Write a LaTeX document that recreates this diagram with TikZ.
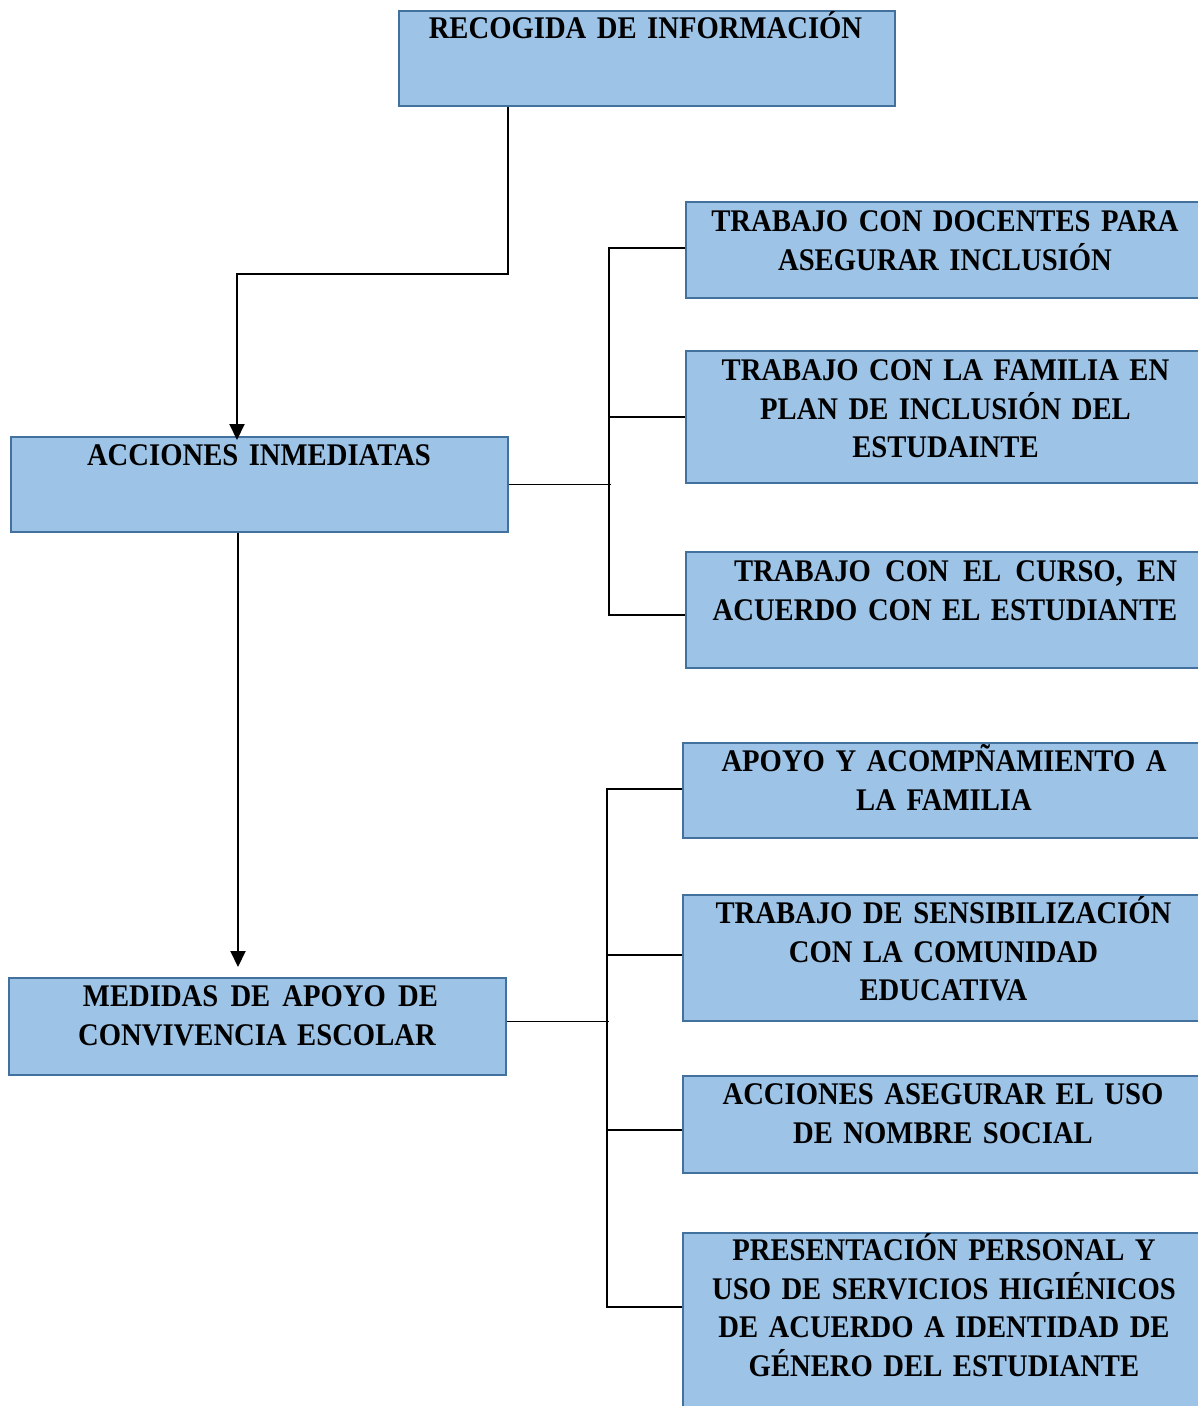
\documentclass[tikz,border=0pt]{standalone}
\usepackage{fontspec}
\setmainfont{Liberation Serif}[FakeStretch=0.91]
\usetikzlibrary{arrows.meta}
\definecolor{boxfill}{HTML}{9DC3E6}
\definecolor{boxline}{HTML}{41719C}
\begin{document}
\begin{tikzpicture}[x=1pt,y=-1pt,
  box/.style={draw=boxline,fill=boxfill,line width=1.8pt,inner sep=0pt,anchor=north west,rectangle},
  txt/.style={font=\fontsize{31.5}{38.5}\selectfont\bfseries,text width=520pt,align=center,inner sep=0pt,anchor=base},
  arr/.style={line width=2pt,-{Triangle[width=15pt,length=16pt]}},
  link/.style={line width=1.2pt}]
\useasboundingbox (0,0) rectangle (1198,1406);
\fill[white] (0,0) rectangle (1198,1406);
% boxes
\node[box,minimum width=496pt,minimum height=95pt] (top) at (398,10) {};
\node[box,minimum width=497pt,minimum height=95pt] (acc) at (10,436) {};
\node[box,minimum width=497pt,minimum height=97pt] (med) at (8,977) {};
\node[box,minimum width=520pt,minimum height=96pt] (r1) at (685,201) {};
\node[box,minimum width=520pt,minimum height=132pt] (r2) at (685,350) {};
\node[box,minimum width=520pt,minimum height=116pt] (r3) at (685,551) {};
\node[box,minimum width=523pt,minimum height=95pt] (r4) at (682,742) {};
\node[box,minimum width=523pt,minimum height=126pt] (r5) at (682,894) {};
\node[box,minimum width=523pt,minimum height=97pt] (r6) at (682,1075) {};
\node[box,minimum width=523pt,minimum height=230pt] (r7) at (682,1232) {};
% arrows
\draw[arr] ([xshift=110pt]top.south west) -- ++(0,167) -| ([xshift=227pt,yshift=-4pt]acc.north west);
\draw[arr] ([xshift=228pt]acc.south west) -- ([xshift=230pt,yshift=10pt]med.north west);
% bracket 1
\draw[link] (acc.east) -- ++(102,0);
\draw[link] ([yshift=2pt]r1.west) -- ++(-76,0) |- ([yshift=-5pt]r3.west);
\draw[link] (r2.west) -- ++(-76,0);
% bracket 2
\draw[link] ([yshift=5pt]med.east) -- ++(102,0);
\draw[link] ([yshift=1.5pt]r4.west) -- ++(-75,0) |- ([yshift=-75pt]r7.north west);
\draw[link] ([yshift=3pt]r5.west) -- ++(-75,0);
\draw[link] ([yshift=-5.5pt]r6.west) -- ++(-75,0);
% texts
\node[txt] (ttop) at (645.5,38.5) {RECOGIDA DE INFORMACIÓN};
\node[txt] (tr1) at (945,231.5) {TRABAJO CON DOCENTES PARA\\ASEGURAR INCLUSIÓN};
\node[txt] (tr2) at (945.5,380.5) {TRABAJO CON LA FAMILIA EN\\PLAN DE INCLUSIÓN DEL\\ESTUDAINTE};
\node[txt] (tacc) at (259,465.5) {ACCIONES INMEDIATAS};
\node[txt] (tr3) at (945,581.5) {\makebox[464pt][r]{\hbox to 443pt{TRABAJO\hfill CON\hfill EL\hfill CURSO,\hfill EN}}\\ACUERDO CON EL ESTUDIANTE};
\node[txt] (tr4) at (944,771.5) {APOYO Y ACOMPÑAMIENTO A\\LA FAMILIA};
\node[txt] (tr5) at (943.5,923.5) {TRABAJO DE SENSIBILIZACIÓN\\CON LA COMUNIDAD\\EDUCATIVA};
\node[txt] (tmed) at (257,1006.5) {\makebox[362pt][r]{\hbox to 355pt{MEDIDAS\hfill DE\hfill APOYO\hfill DE}}\\CONVIVENCIA ESCOLAR};
\node[txt] (tr6) at (943,1104.5) {ACCIONES ASEGURAR EL USO\\DE NOMBRE SOCIAL};
\node[txt] (tr7) at (944,1260.5) {PRESENTACIÓN PERSONAL Y\\USO DE SERVICIOS HIGIÉNICOS\\DE ACUERDO A IDENTIDAD DE\\GÉNERO DEL ESTUDIANTE};
\end{tikzpicture}
\end{document}
